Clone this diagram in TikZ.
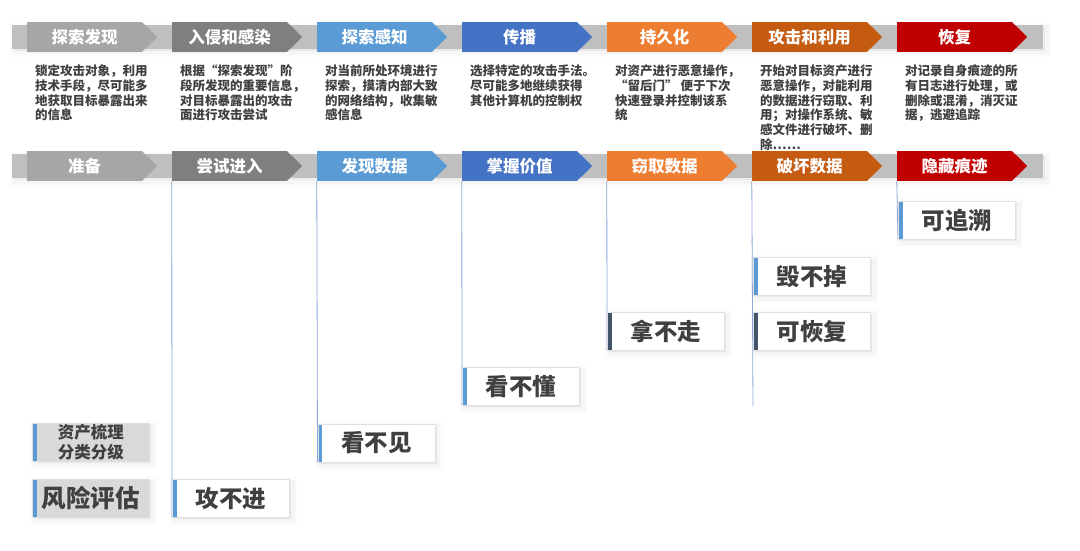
\documentclass[tikz,border=0pt]{standalone}
\usepackage{fontspec}
\setmainfont{Noto Sans CJK SC}
\usetikzlibrary{backgrounds}
\definecolor{c1}{HTML}{A6A6A6}
\definecolor{c2}{HTML}{7F7F7F}
\definecolor{c3}{HTML}{5B9BD5}
\definecolor{c4}{HTML}{4472C4}
\definecolor{c5}{HTML}{ED7D31}
\definecolor{c6}{HTML}{C55A11}
\definecolor{c7}{HTML}{C00000}
\definecolor{barcol}{HTML}{BFBFBF}
\definecolor{txt}{HTML}{404040}
\definecolor{vlinecol}{HTML}{8EA9DB}
\definecolor{stripeblue}{HTML}{5B9BD5}
\definecolor{stripenavy}{HTML}{44546A}
\definecolor{grayfill}{HTML}{D9D9D9}
\begin{document}
\begin{tikzpicture}[x=1pt,y=-1pt,
  chev/.style={rectangle, fill=#1, minimum width=115pt, minimum height=30pt, inner sep=0pt,
    text=white, font=\fontsize{16.5}{18}\selectfont\bfseries},
  desc/.style={anchor=north west, inner sep=0pt, align=left, text=txt,
    font=\fontsize{12.5}{14.8}\selectfont\bfseries},
  softshadow/.style={
    preaction={draw=black, line width=10pt, opacity=0.015, transform canvas={xshift=3pt,yshift=-3pt}},
    preaction={draw=black, line width=5pt, opacity=0.025, transform canvas={xshift=3pt,yshift=-3pt}},
    preaction={fill=black, opacity=0.05, transform canvas={xshift=2pt,yshift=-2pt}}},
  tag/.style={rectangle, anchor=north west, fill=white, draw=black!12, line width=0.6pt,
    minimum width=117pt, minimum height=38pt, inner sep=0pt, text=txt,
    font=\fontsize{23.5}{26}\selectfont\bfseries, softshadow,
    path picture={\fill[#1] (path picture bounding box.north west) rectangle ([xshift=4.5pt]path picture bounding box.south west);}},
  vline/.style={draw=vlinecol, line width=0.8pt}
]
\useasboundingbox (0,0) rectangle (1080,551);

% phase bars
\fill[barcol, softshadow] (12,25) rectangle (1043,49);
\fill[barcol, softshadow] (12,154) rectangle (1043,178);

% chevrons
\foreach \i/\a/\b/\col in {1/探索发现/准备/c1, 2/入侵和感染/尝试进入/c2, 3/探索感知/发现数据/c3,
    4/传播/掌握价值/c4, 5/持久化/窃取数据/c5, 6/攻击和利用/破坏数据/c6, 7/恢复/隐藏痕迹/c7} {
  \pgfmathsetmacro\xx{27+145*(\i-1)+57.5}
  \node[chev=\col] (t\i) at (\xx,37) {\a};
  \fill[\col] ([xshift=-0.5pt]t\i.north east) -- ([xshift=15pt]t\i.east) -- ([xshift=-0.5pt]t\i.south east) -- cycle;
  \node[chev=\col] (r\i) at (\xx,166) {\b};
  \fill[\col] ([xshift=-0.5pt]r\i.north east) -- ([xshift=15pt]r\i.east) -- ([xshift=-0.5pt]r\i.south east) -- cycle;
}

% descriptions
\node[desc] (d1) at (35,64.5) {锁定攻击对象，利用\\技术手段，尽可能多\\地获取目标暴露出来\\的信息};
\node[desc] (d2) at (180,64.5) {根据“探索发现”阶\\段所发现的重要信息，\\对目标暴露出的攻击\\面进行攻击尝试};
\node[desc] (d3) at (325,64.5) {对当前所处环境进行\\探索，摸清内部大致\\的网络结构，收集敏\\感信息};
\node[desc] (d4) at (470,64.5) {选择特定的攻击手法。\\尽可能多地继续获得\\其他计算机的控制权};
\node[desc] (d5) at (615,64.5) {对资产进行恶意操作，\\“留后门” 便于下次\\快速登录并控制该系\\统};
\node[desc] (d6) at (760,64.5) {开始对目标资产进行\\恶意操作，对能利用\\的数据进行窃取、利\\用；对操作系统、敏\\感文件进行破坏、删\\除……};
\node[desc] (d7) at (905,64.5) {对记录自身痕迹的所\\有日志进行处理，或\\删除或混淆，消灭证\\据，逃避追踪};

% result boxes
\node[tag=stripeblue, fill=grayfill, align=center, font=\fontsize{16.5}{20}\selectfont\bfseries] (b1a) at (32,423) {资产梳理\\分类分级};
\node[tag=stripeblue, fill=grayfill, font=\fontsize{24.5}{26}\selectfont\bfseries] (b1b) at (32,479) {风险评估};
\node[tag=stripeblue] (b2) at (172,479) {攻不进};
\node[tag=stripeblue] (b3) at (317.5,423.5) {看不见};
\node[tag=stripeblue] (b4) at (462,367) {看不懂};
\node[tag=stripenavy] (b5) at (607,312) {拿不走};
\node[tag=stripeblue] (b6a) at (753,257) {毁不掉};
\node[tag=stripenavy] (b6b) at (753,312) {可恢复};
\node[tag=stripeblue] (b7) at (898,201) {可追溯};

% vertical connectors
\coordinate (e6) at (753,406);
\begin{scope}[on background layer]
  \fill[white] (0,0) rectangle (1080,551);
  \draw[vline] (r2.south west) -- (b2.south west);
  \draw[vline] (r3.south west) -- (b3.south west);
  \draw[vline] (r4.south west) -- (b4.south west);
  \draw[vline] (r5.south west) -- (b5.south west);
  \draw[vline] (r6.south west) -- (e6);
  \draw[vline] (r7.south west) -- (b7.south west);
\end{scope}
\end{tikzpicture}
\end{document}
